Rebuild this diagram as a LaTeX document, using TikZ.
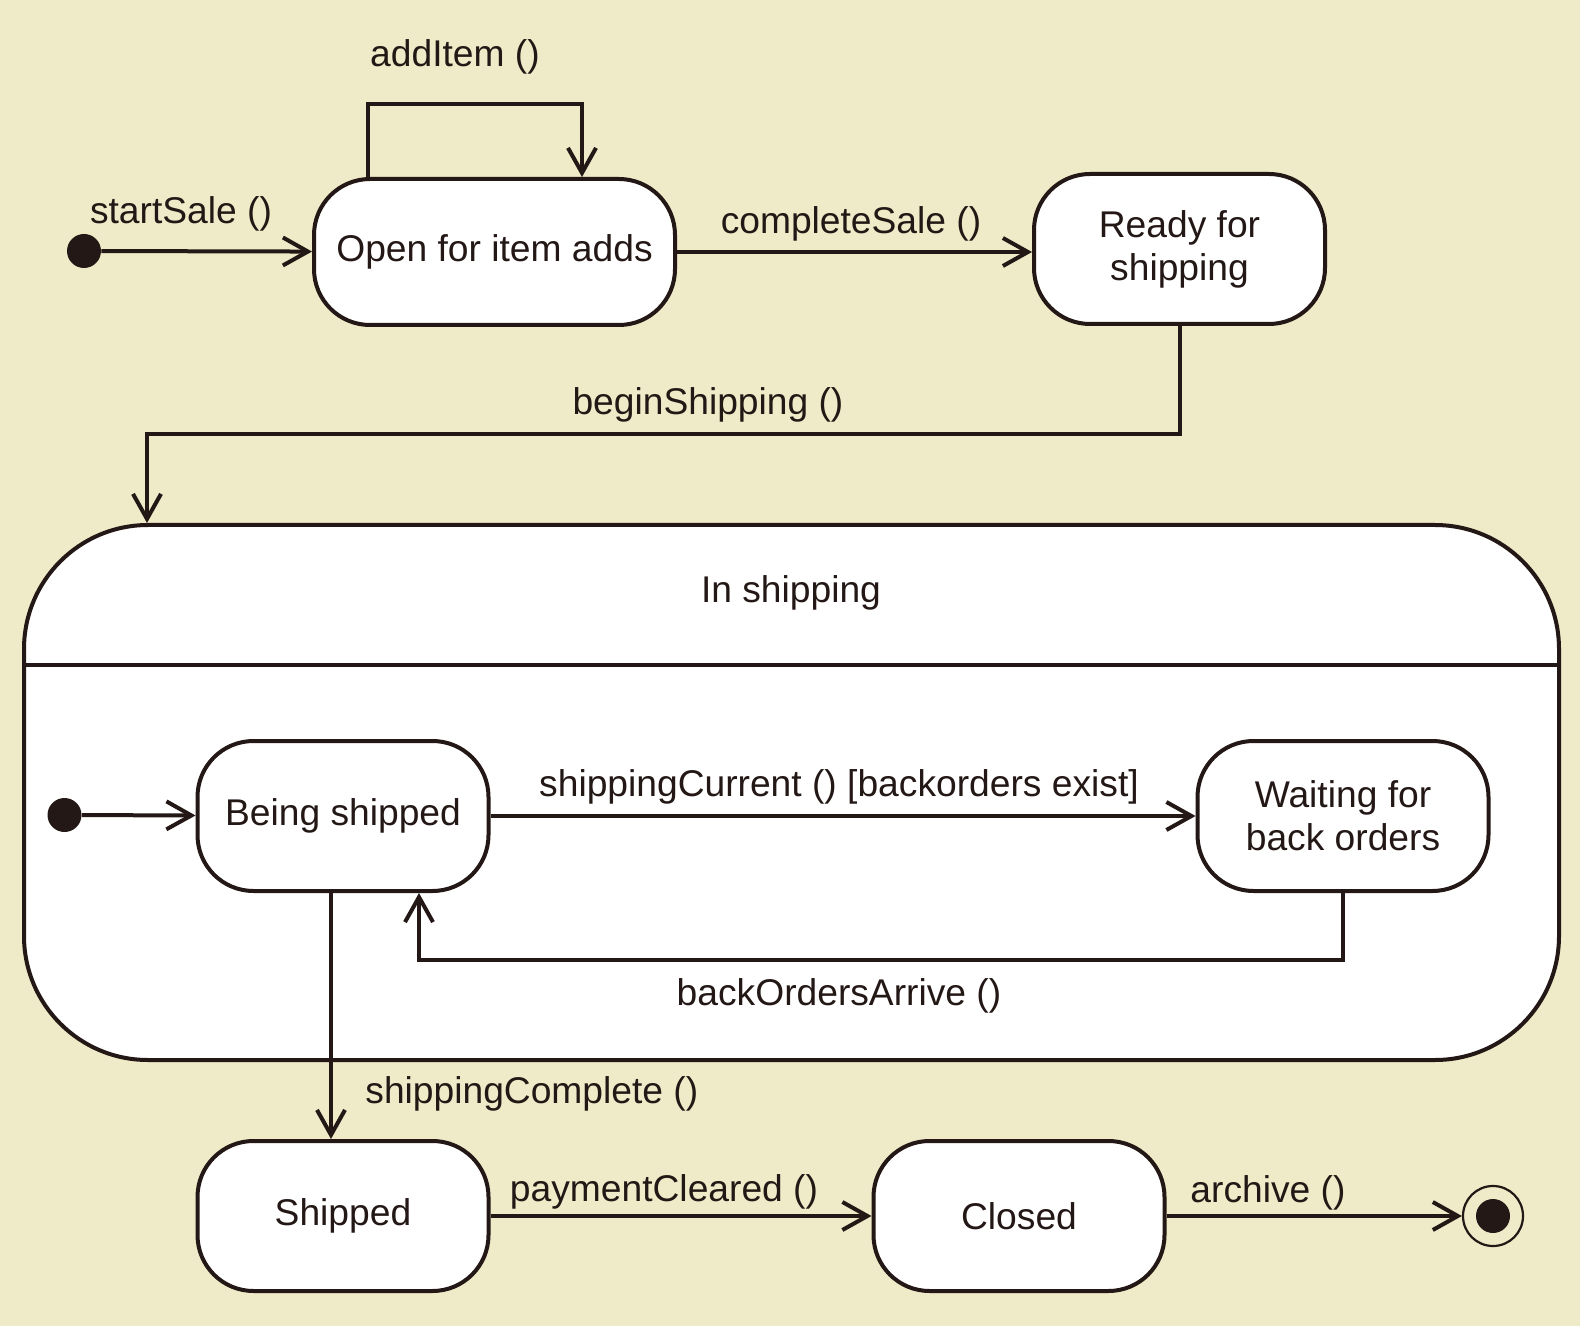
\documentclass[tikz,border=0pt]{standalone}
\usepackage{fontspec}
\setmainfont{Liberation Sans}
\usetikzlibrary{arrows.meta}
\definecolor{bgc}{RGB}{239,234,200}
\definecolor{ink}{RGB}{35,24,21}
\tikzset{
  statebox/.style={draw=ink, fill=white, line width=2pt, rounded corners=28pt,
    minimum width=145.5pt, minimum height=75pt, align=center, inner sep=0pt,
    text=ink, font=\fontsize{18.6pt}{21.5pt}\selectfont},
  initdot/.style={circle, fill=ink, minimum size=17pt, inner sep=0pt},
  lbl/.style={text=ink, font=\fontsize{18.6pt}{21.5pt}\selectfont, inner sep=0pt},
  arr/.style={draw=ink, line width=2pt, -{Straight Barb[length=12.5pt,width=14pt,line width=2pt]}},
  conn/.style={draw=ink, line width=2pt},
}
\begin{document}
\begin{tikzpicture}[x=0.5pt,y=-0.5pt]
\useasboundingbox (0,0) rectangle (1580,1326);
\fill[bgc] (0,0) rectangle (1580,1326);

% states
\node[statebox, minimum width=180.5pt, minimum height=73pt] (open) at (494.5,252) {Open for item adds};
\node[statebox] (ready) at (1179.5,249) {Ready for\\shipping};
\node[statebox, rounded corners=62pt, minimum width=767.5pt, minimum height=267.5pt] (insh) at (791.5,792.5) {};
\node[statebox] (being) at (343,816) {Being shipped};
\node[statebox] (waiting) at (1343,816) {Waiting for\\back orders};
\node[statebox] (shipped) at (343,1216) {Shipped};
\node[statebox] (closed) at (1019,1216) {Closed};

\node[initdot] (i1) at (84,251) {};
\node[initdot] (i2) at (64.5,815) {};
\node[circle, draw=ink, line width=1.1pt, minimum size=30pt, inner sep=0pt] (final) at (1493,1216) {};
\fill[ink] (final.center) circle[radius=8.5pt];

% divider inside superstate
\coordinate (dv) at (0,665);
\draw[conn] (insh.west |- dv) -- (insh.east |- dv);

% labels
\node[lbl] (lAdd) at (455,57) {addItem ()};
\node[lbl] (lStart) at (181,214) {startSale ()};
\node[lbl] (lComplete) at (851,224) {completeSale ()};
\node[lbl] (lBegin) at (708,405) {beginShipping ()};
\node[lbl] (lIn) at (791,593) {In shipping};
\node[lbl] (lCurrent) at (839,787) {shippingCurrent () [backorders exist]};
\node[lbl] (lBack) at (839,996) {backOrdersArrive ()};
\node[lbl, anchor=west] (lShipC) at (365,1094) {shippingComplete ()};
\node[lbl] (lPay) at (664,1192) {paymentCleared ()};
\node[lbl] (lArch) at (1268,1193) {archive ()};

% connectors
\draw[arr] (i1) -- (open);
\coordinate (la) at (368,104);
\coordinate (lb) at (582,104);
\draw[arr] (la |- open.north) -- (la) -- (lb) -- (lb |- open.north);
\draw[arr] (open.east) -- (open.east -| ready.west);
\coordinate (bs) at (147,434);
\draw[arr] (ready.south) |- (bs) -- (bs |- insh.north);
\draw[arr] (i2) -- (being);
\draw[arr] (being.east) -- (being.east -| waiting.west);
\coordinate (ba) at (419,960);
\draw[arr] (waiting.south) |- (ba) -- (ba |- being.south);
\coordinate (sc) at (331,0);
\draw[arr] (sc |- being.south) -- (sc |- shipped.north);
\draw[arr] (shipped.east) -- (closed.west);
\draw[arr] (closed.east) -- (final);
\end{tikzpicture}
\end{document}
